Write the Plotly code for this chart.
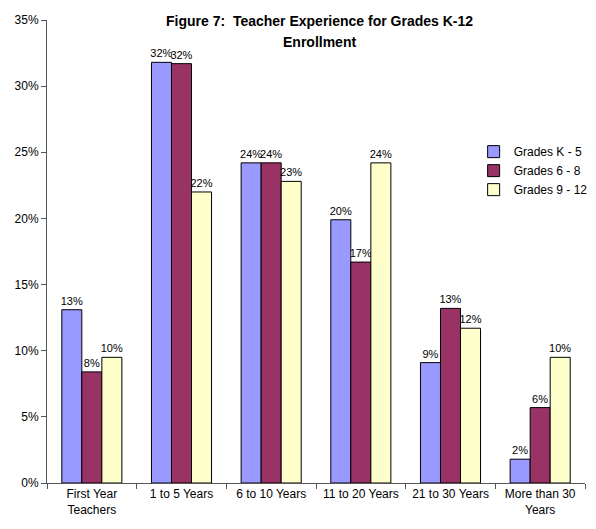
"""Teacher experience by grade band - grouped bar chart."""

import plotly.graph_objects as go

categories = [
    "First Year<br>Teachers",
    "1 to 5 Years",
    "6 to 10 Years",
    "11 to 20 Years",
    "21 to 30 Years",
    "More than 30<br>Years",
]

grades_k5 = [13.1, 31.8, 24.2, 19.9, 9.1, 1.8]
grades_68 = [8.4, 31.7, 24.2, 16.7, 13.2, 5.7]
grades_912 = [9.5, 22.0, 22.8, 24.2, 11.7, 9.5]

title_lines = ["Figure 7:  Teacher Experience for Grades K-12", "Enrollment"]

series = [
    ("Grades K - 5", grades_k5, "#9999FF"),
    ("Grades 6 - 8", grades_68, "#993366"),
    ("Grades 9 - 12", grades_912, "#FFFFCC"),
]

fig = go.Figure()

for name, values, color in series:
    fig.add_trace(
        go.Bar(
            x=categories,
            y=values,
            name=name,
            marker=dict(color=color, line=dict(color="black", width=1)),
            texttemplate="%{y:.0f}%",
            textposition="outside",
            textfont=dict(size=11, color="black"),
            constraintext="none",
            cliponaxis=False,
        )
    )

# title as two annotations, to get the wider line spacing of the original
for line, ypos in zip(title_lines, [0.998, 0.953]):
    fig.add_annotation(
        text=f"<b>{line}</b>",
        xref="paper",
        yref="paper",
        x=0.507,
        y=ypos,
        xanchor="center",
        yanchor="middle",
        showarrow=False,
        font=dict(size=14),
    )

# page body has an 8px margin, so the figure is a bit smaller than the window
fig.update_layout(
    width=588,
    height=521,
    barmode="group",
    bargap=0.33,
    bargroupgap=0,
    plot_bgcolor="white",
    paper_bgcolor="white",
    font=dict(family="Liberation Sans, Arial, sans-serif", size=12, color="black"),
    margin=dict(l=39, r=3, t=12, b=46),
    legend=dict(
        x=0.793,
        y=0.747,
        xanchor="left",
        yanchor="top",
        font=dict(size=12),
        tracegroupgap=0,
        itemwidth=30,
        bgcolor="rgba(0,0,0,0)",
    ),
)

fig.update_yaxes(
    range=[0, 35],
    dtick=5,
    ticksuffix="%",
    showgrid=False,
    showline=True,
    linecolor="#555",
    ticks="outside",
    ticklen=5,
    tickcolor="#555",
    zeroline=False,
    tickfont=dict(size=12),
)

fig.update_xaxes(
    showgrid=False,
    showline=True,
    linecolor="#555",
    ticks="outside",
    tickson="boundaries",
    ticklen=5,
    tickcolor="#555",
    tickfont=dict(size=12),
)

fig.write_html("out.html")
